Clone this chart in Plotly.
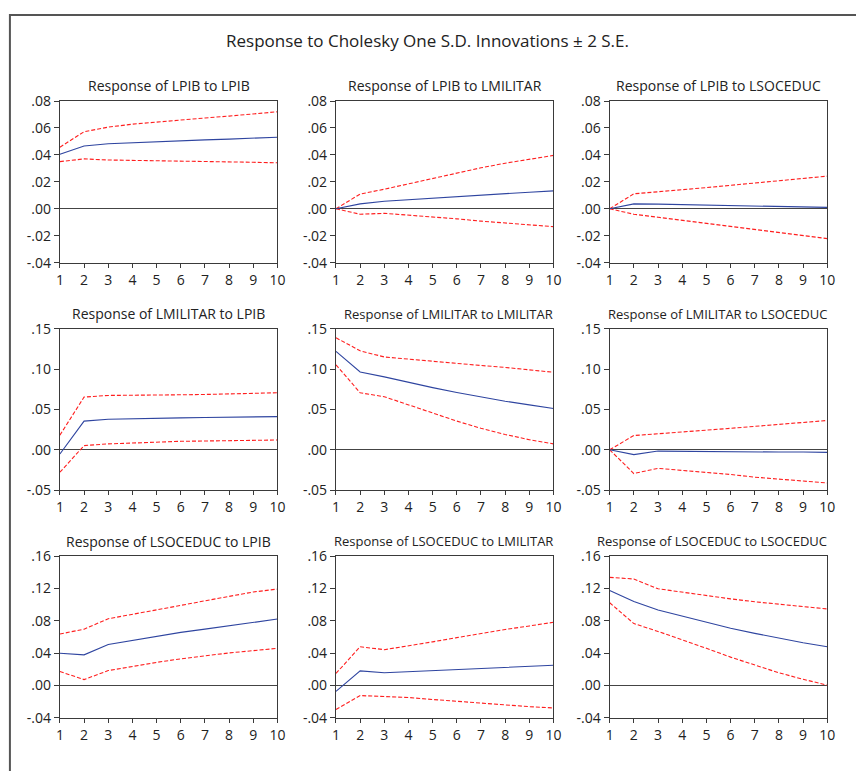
import plotly.graph_objects as go

periods = list(range(1, 11))
var_names = ["LPIB", "LMILITAR", "LSOCEDUC"]

# Row 1: Response of LPIB
lpib_lpib = [0.0405, 0.0466, 0.0483, 0.0491, 0.0498, 0.0505, 0.0511, 0.0517, 0.0524, 0.0531]
lpib_lpib_up = [0.0457, 0.0572, 0.0606, 0.0628, 0.0643, 0.0660, 0.0674, 0.0688, 0.0703, 0.0720]
lpib_lpib_lo = [0.0350, 0.0370, 0.0362, 0.0360, 0.0357, 0.0355, 0.0353, 0.0348, 0.0345, 0.0341]

lpib_lmil = [0.0, 0.0036, 0.0056, 0.0068, 0.0080, 0.0092, 0.0101, 0.0111, 0.0123, 0.0133]
lpib_lmil_up = [0.0, 0.0109, 0.0145, 0.0186, 0.0227, 0.0266, 0.0304, 0.0338, 0.0367, 0.0396]
lpib_lmil_lo = [0.0, -0.0041, -0.0034, -0.0046, -0.0060, -0.0075, -0.0092, -0.0106, -0.0118, -0.0133]

lpib_lsoc = [0.0, 0.0036, 0.0034, 0.0031, 0.0027, 0.0024, 0.0019, 0.0017, 0.0012, 0.0010]
lpib_lsoc_up = [0.0, 0.0111, 0.0126, 0.0140, 0.0157, 0.0174, 0.0191, 0.0208, 0.0225, 0.0242]
lpib_lsoc_lo = [0.0, -0.0041, -0.0063, -0.0085, -0.0109, -0.0130, -0.0152, -0.0174, -0.0198, -0.0222]

# Row 2: Response of LMILITAR
lmil_lpib = [-0.0052, 0.0355, 0.0379, 0.0387, 0.0391, 0.0395, 0.0399, 0.0403, 0.0407, 0.0411]
lmil_lpib_up = [0.0181, 0.0653, 0.0673, 0.0673, 0.0677, 0.0681, 0.0685, 0.0694, 0.0698, 0.0706]
lmil_lpib_lo = [-0.0278, 0.0052, 0.0073, 0.0085, 0.0097, 0.0105, 0.0109, 0.0113, 0.0117, 0.0121]

lmil_lmil = [0.1218, 0.0964, 0.0903, 0.0835, 0.0770, 0.0710, 0.0653, 0.0601, 0.0556, 0.0512]
lmil_lmil_up = [0.1387, 0.1226, 0.1149, 0.1121, 0.1093, 0.1069, 0.1044, 0.1020, 0.0992, 0.0960]
lmil_lmil_lo = [0.1052, 0.0706, 0.0657, 0.0560, 0.0456, 0.0355, 0.0266, 0.0190, 0.0125, 0.0073]

lmil_lsoc = [0.0, -0.0060, -0.0016, -0.0020, -0.0020, -0.0024, -0.0024, -0.0028, -0.0028, -0.0032]
lmil_lsoc_up = [0.0, 0.0177, 0.0198, 0.0218, 0.0242, 0.0266, 0.0290, 0.0315, 0.0339, 0.0363]
lmil_lsoc_lo = [0.0, -0.0294, -0.0230, -0.0254, -0.0278, -0.0306, -0.0339, -0.0367, -0.0387, -0.0411]

# Row 3: Response of LSOCEDUC
lsoc_lpib = [0.0399, 0.0379, 0.0508, 0.0560, 0.0613, 0.0657, 0.0697, 0.0737, 0.0780, 0.0822]
lsoc_lpib_up = [0.0637, 0.0697, 0.0826, 0.0879, 0.0931, 0.0991, 0.1048, 0.1104, 0.1157, 0.1193]
lsoc_lpib_lo = [0.0173, 0.0073, 0.0185, 0.0238, 0.0286, 0.0330, 0.0367, 0.0403, 0.0431, 0.0460]

lsoc_lmil = [-0.0073, 0.0181, 0.0157, 0.0169, 0.0181, 0.0193, 0.0206, 0.0218, 0.0234, 0.0250]
lsoc_lmil_up = [0.0149, 0.0480, 0.0443, 0.0487, 0.0540, 0.0592, 0.0645, 0.0693, 0.0737, 0.0782]
lsoc_lmil_lo = [-0.0298, -0.0125, -0.0137, -0.0149, -0.0173, -0.0197, -0.0222, -0.0242, -0.0262, -0.0278]

lsoc_lsoc = [0.1177, 0.1040, 0.0935, 0.0858, 0.0782, 0.0709, 0.0645, 0.0584, 0.0528, 0.0480]
lsoc_lsoc_up = [0.1338, 0.1318, 0.1197, 0.1153, 0.1108, 0.1072, 0.1036, 0.1004, 0.0975, 0.0947]
lsoc_lsoc_lo = [0.1024, 0.0766, 0.0669, 0.0568, 0.0460, 0.0351, 0.0250, 0.0157, 0.0077, 0.0004]

# Y tick values and labels per row
row1_ticks = [-0.04, -0.02, 0.0, 0.02, 0.04, 0.06, 0.08]
row1_labels = ["-.04", "-.02", ".00", ".02", ".04", ".06", ".08"]
row2_ticks = [-0.05, 0.0, 0.05, 0.10, 0.15]
row2_labels = ["-.05", ".00", ".05", ".10", ".15"]
row3_ticks = [-0.04, 0.0, 0.04, 0.08, 0.12, 0.16]
row3_labels = ["-.04", ".00", ".04", ".08", ".12", ".16"]

main_title = "Response to Cholesky One S.D. Innovations \u00b1 2 S.E."

panels = [
    [(lpib_lpib, lpib_lpib_up, lpib_lpib_lo), (lpib_lmil, lpib_lmil_up, lpib_lmil_lo), (lpib_lsoc, lpib_lsoc_up, lpib_lsoc_lo)],
    [(lmil_lpib, lmil_lpib_up, lmil_lpib_lo), (lmil_lmil, lmil_lmil_up, lmil_lmil_lo), (lmil_lsoc, lmil_lsoc_up, lmil_lsoc_lo)],
    [(lsoc_lpib, lsoc_lpib_up, lsoc_lpib_lo), (lsoc_lmil, lsoc_lmil_up, lsoc_lmil_lo), (lsoc_lsoc, lsoc_lsoc_up, lsoc_lsoc_lo)],
]
row_ticks = [(row1_ticks, row1_labels), (row2_ticks, row2_labels), (row3_ticks, row3_labels)]

W, H = 856, 771
col_px = [(56.7, 277.3), (336.7, 557.3), (614.3, 835.0)]
row_px = [(93.3, 259.0), (326.7, 492.3), (560.0, 725.7)]

FONT = "'Open Sans', Roboto, sans-serif"
BLUE = "#2f45a0"
RED = "#ff1f1f"
AXC = "#3a3a3a"
TXT = "#222222"

fig = go.Figure()
layout = dict(
    width=W, height=H,
    margin=dict(l=0, r=0, t=0, b=0),
    paper_bgcolor="white", plot_bgcolor="white",
    showlegend=False,
    font=dict(family=FONT, size=14, color=TXT),
)
annotations = []

k = 0
for r in range(3):
    for c in range(3):
        k += 1
        xa = "x" if k == 1 else f"x{k}"
        ya = "y" if k == 1 else f"y{k}"
        resp, up, lo = panels[r][c]
        for series, color, dash in ((up, RED, "4px,2px"), (lo, RED, "4px,2px"), (resp, BLUE, "solid")):
            fig.add_trace(go.Scatter(
                x=periods, y=series, mode="lines",
                line=dict(color=color, width=1.1, dash=dash),
                xaxis=xa, yaxis=ya, hoverinfo="skip"))
        x0, x1 = col_px[c]
        y0, y1 = row_px[r]
        tv, tt = row_ticks[r]
        layout["xaxis" if k == 1 else f"xaxis{k}"] = dict(
            domain=[x0 / W, x1 / W], anchor=ya, range=[1, 10],
            tickmode="array", tickvals=periods, ticktext=[str(p) for p in periods],
            ticks="outside", ticklen=4, tickcolor=AXC, tickwidth=1,
            showline=True, linecolor=AXC, linewidth=1.2, mirror=True,
            showgrid=False, zeroline=False,
            tickfont=dict(family=FONT, size=14, color=TXT),
        )
        layout["yaxis" if k == 1 else f"yaxis{k}"] = dict(
            domain=[1 - y1 / H, 1 - y0 / H], anchor=xa, range=[tv[0], tv[-1]],
            tickmode="array", tickvals=tv, ticktext=tt,
            ticks="outside", ticklen=5, tickcolor=AXC, tickwidth=1,
            showline=True, linecolor=AXC, linewidth=1.2, mirror=True,
            showgrid=False, zeroline=True, zerolinecolor="#444444", zerolinewidth=1,
            tickfont=dict(family=FONT, size=14, color=TXT),
        )
        title = f"Response of {var_names[r]} to {var_names[c]}"
        if len(title) > 30:
            ax, xanc, fs = (x1 + 1.5) / W, "right", 13
        else:
            ax, xanc, fs = (x0 + x1) / 2 / W, "center", 14
        annotations.append(dict(
            text=title, xref="paper", yref="paper",
            x=ax, xanchor=xanc, y=1 - (y0 - 15.5) / H, yanchor="middle",
            showarrow=False, font=dict(family=FONT, size=fs, color=TXT)))

annotations.append(dict(
    text=main_title, xref="paper", yref="paper",
    x=430 / W, xanchor="center", y=1 - 31 / H, yanchor="middle",
    showarrow=False, font=dict(family=FONT, size=17, color=TXT)))

layout["annotations"] = annotations
layout["shapes"] = [dict(
    type="rect", xref="paper", yref="paper",
    x0=6 / W, x1=1.02, y0=-0.02, y1=1 - 5 / H,
    line=dict(color="#555555", width=2), fillcolor="rgba(0,0,0,0)", layer="below")]

fig.update_layout(**layout)
fig.write_html(
    "out.html",
    config={"displayModeBar": False},
    post_script="document.body.style.margin='0';document.body.style.padding='0';"
                "document.body.style.overflow='hidden';"
                "document.documentElement.style.overflow='hidden';",
)
